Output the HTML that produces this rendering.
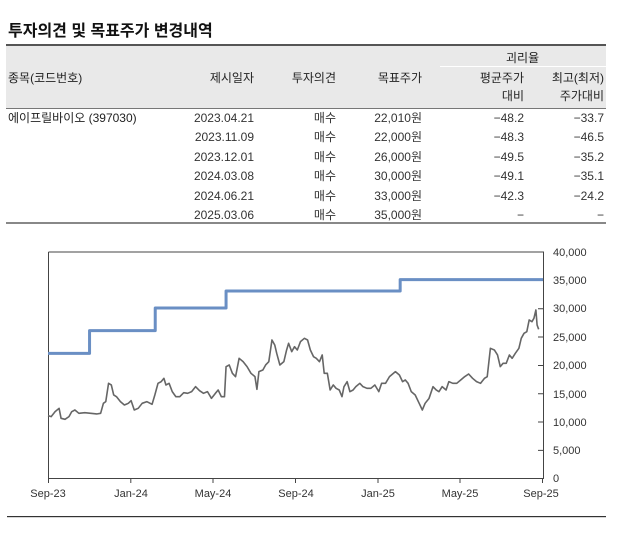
<!DOCTYPE html>
<html><head><meta charset="utf-8"><style>
body{margin:0;width:620px;height:540px;background:#fff;font-family:"Liberation Sans","Noto Sans CJK KR",sans-serif;color:#222;position:relative;overflow:hidden}
.t{position:absolute;white-space:nowrap;font-size:12px}
.r{text-align:right}
</style></head><body>
<div class="t" style="left:8px;top:17px;font-size:16px;font-weight:bold;color:#111">투자의견 및 목표주가 변경내역</div>
<div style="position:absolute;left:6px;top:44px;width:600px;height:62px;background:#e9e9e9;border-top:2px solid #555;border-bottom:1px solid #777"></div>
<div style="position:absolute;left:440px;top:66px;width:166px;height:1px;background:#fff"></div>
<div class="t" style="left:506px;top:49px">괴리율</div>
<div class="t" style="left:8px;top:69px">종목(코드번호)</div>
<div class="t r" style="left:170px;width:84px;top:69px">제시일자</div>
<div class="t r" style="left:270px;width:66px;top:69px">투자의견</div>
<div class="t r" style="left:340px;width:82px;top:69px">목표주가</div>
<div class="t r" style="left:440px;width:84px;top:69px">평균주가</div>
<div class="t r" style="left:440px;width:84px;top:87px">대비</div>
<div class="t r" style="left:520px;width:84px;top:69px">최고(최저)</div>
<div class="t r" style="left:520px;width:84px;top:87px">주가대비</div>
<div class="t" style="left:8px;top:109px">에이프릴바이오 (397030)</div>
<div style="position:absolute;left:170px;top:109px;font-size:12px;line-height:19.4px;color:#333">
<div style="position:absolute;left:0;width:84px;text-align:right">2023.04.21<br>2023.11.09<br>2023.12.01<br>2024.03.08<br>2024.06.21<br>2025.03.06</div>
<div style="position:absolute;left:100px;width:66px;text-align:right">매수<br>매수<br>매수<br>매수<br>매수<br>매수</div>
<div style="position:absolute;left:170px;width:82px;text-align:right">22,010원<br>22,000원<br>26,000원<br>30,000원<br>33,000원<br>35,000원</div>
<div style="position:absolute;left:270px;width:84px;text-align:right">−48.2<br>−48.3<br>−49.5<br>−49.1<br>−42.3<br>−</div>
<div style="position:absolute;left:350px;width:84px;text-align:right">−33.7<br>−46.5<br>−35.2<br>−35.1<br>−24.2<br>−</div>
</div>
<div style="position:absolute;left:6px;top:222px;width:600px;height:2px;background:#888"></div>
<svg style="position:absolute;left:0;top:0" width="620" height="540">
<g stroke="#444" stroke-width="1" fill="none">
<path d="M48.5 252V478.5H543.5V252H48.5"/>
<path d="M543 252h-5M543 280.4h-5M543 308.7h-5M543 337h-5M543 365.5h-5M543 393.7h-5M543 422h-5M543 450.4h-5"/>
<path d="M48.5 478v5M130.8 478v5M213 478v5M295.5 478v5M378 478v5M460 478v5M542.5 478v5"/>
</g>
<g transform="translate(48,230) scale(0.3957,0.3333) translate(-122,0)" fill="none" stroke-linejoin="round">
<path vector-effect="non-scaling-stroke" stroke="#6a8fc4" stroke-width="3" d="M122 370H227V302H393V234H572V183H1012V149H1373"/>
<path vector-effect="non-scaling-stroke" stroke="#666" stroke-width="1.6" d="M122 557L130 560L140 545L150 535L155 565L165 568L175 560L182 545L190 540L200 550L215 548L230 550L245 552L255 550L262 520L268 515L275 460L282 465L288 495L295 500L305 515L315 525L325 520L332 512L340 540L350 535L360 520L372 515L385 523L392 495L400 460L408 455L415 445L420 465L428 460L436 485L445 500L455 500L465 488L475 490L485 485L495 470L505 482L515 490L525 485L535 505L545 490L552 480L560 500L568 500L572 410L580 405L588 430L596 440L605 385L615 395L625 410L635 430L645 440L650 478L655 425L665 420L672 405L680 395L688 330L695 345L700 370L708 405L718 395L725 360L730 340L738 365L745 350L752 360L760 335L770 325L778 330L785 360L793 380L800 385L808 395L815 375L820 430L828 430L835 480L843 465L850 475L858 480L865 500L870 470L878 455L885 485L893 480L900 470L910 460L918 470L928 475L938 475L948 465L958 485L965 460L975 460L985 440L1000 425L1010 435L1018 455L1025 450L1032 460L1040 485L1050 495L1060 520L1068 540L1075 520L1085 505L1095 470L1103 480L1110 485L1118 470L1128 480L1135 455L1145 460L1155 460L1165 450L1175 440L1185 432L1195 445L1205 455L1215 460L1225 445L1232 440L1240 355L1250 360L1258 375L1265 410L1272 400L1280 400L1288 375L1295 385L1303 370L1312 355L1318 325L1325 310L1332 305L1338 270L1345 275L1350 265L1355 240L1358 285L1362 298"/>
</g>
<g font-family="Liberation Sans, sans-serif" font-size="11" fill="#333">
<text x="553" y="256">40,000</text><text x="553" y="284">35,000</text><text x="553" y="312">30,000</text>
<text x="553" y="341">25,000</text><text x="553" y="369">20,000</text><text x="553" y="398">15,000</text>
<text x="553" y="426">10,000</text><text x="553" y="454">5,000</text><text x="553" y="482">0</text>
<g text-anchor="middle"><text x="48" y="497">Sep-23</text><text x="131" y="497">Jan-24</text><text x="213" y="497">May-24</text><text x="296" y="497">Sep-24</text><text x="378" y="497">Jan-25</text><text x="460" y="497">May-25</text><text x="541" y="497">Sep-25</text></g>
</g>
<rect x="7" y="516" width="599" height="1.2" fill="#333"/>
</svg>
</body></html>
